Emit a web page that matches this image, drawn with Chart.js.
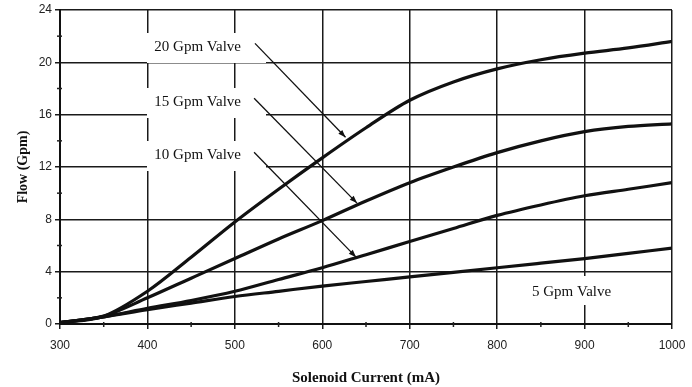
<!DOCTYPE html>
<html>
<head>
<meta charset="utf-8">
<script src="https://cdn.jsdelivr.net/npm/chart.js@4"></script>
<style>
html,body{margin:0;padding:0;background:#fff;}
#wrap{width:692px;height:387px;position:relative;}
</style>
</head>
<body>
<div id="wrap"><canvas id="c" width="692" height="387"></canvas></div>
<script>
// ---- data ----
const current = [300,350,400,450,500,550,600,650,700,750,800,850,900,950,1000];
const flow20 = [0.1,0.6,2.5,5.1,7.8,10.3,12.7,15.0,17.1,18.5,19.5,20.2,20.7,21.1,21.6];
const flow15 = [0.1,0.6,2.0,3.5,5.0,6.5,7.9,9.4,10.8,12.0,13.1,14.0,14.7,15.1,15.3];
const flow10 = [0.1,0.55,1.2,1.8,2.5,3.4,4.3,5.3,6.3,7.3,8.3,9.1,9.8,10.3,10.8];
const flow5  = [0.1,0.55,1.1,1.6,2.1,2.5,2.9,3.25,3.6,3.95,4.3,4.65,5.0,5.4,5.8];
const seriesNames = ['20 Gpm Valve','15 Gpm Valve','10 Gpm Valve','5 Gpm Valve'];
const xTicks = [300,400,500,600,700,800,900,1000];
const yTicks = [0,4,8,12,16,20,24];
const xMinor = [350,450,550,650,750,850,950];
const yMinor = [2,6,10,14,18,22];
// arrow annotations: [start x, start y, tip x, tip y] in data units
const arrow20 = [523,21.45,626.6,14.27];
const arrow15 = [522,17.25,639.7,9.24];
const arrow10 = [522,13.13,638.6,5.11];

function pts(ys){ return current.map((x,i)=>({x:x,y:ys[i]})); }

const annot = {
  id:'annot',
  beforeDatasetsDraw(chart){
    const ctx = chart.ctx, xs = chart.scales.x, ys = chart.scales.y;
    ctx.save();
    ctx.fillStyle = '#fff';
    [47,102,155].forEach(c=>{ ctx.fillRect(147, c-14, 119, 30); });
    ctx.fillRect(524, 276, 96, 29);
    ctx.strokeStyle = '#222'; ctx.lineWidth = 1.5;
    xMinor.forEach(v=>{ const px = xs.getPixelForValue(v); ctx.beginPath(); ctx.moveTo(px, ys.bottom-2); ctx.lineTo(px, ys.bottom+3); ctx.stroke(); });
    yMinor.forEach(v=>{ const py = ys.getPixelForValue(v); ctx.beginPath(); ctx.moveTo(xs.left-3, py); ctx.lineTo(xs.left+2, py); ctx.stroke(); });
    ctx.restore();
  },
  afterDatasetsDraw(chart){
    const ctx = chart.ctx, xs = chart.scales.x, ys = chart.scales.y;
    ctx.save();
    ctx.fillStyle = '#111';
    ctx.font = '15px "Liberation Serif", "Times New Roman", serif';
    ctx.textBaseline = 'middle';
    ctx.textAlign = 'right';
    ctx.fillText(seriesNames[0], 241, 47);
    ctx.fillText(seriesNames[1], 241, 102);
    ctx.fillText(seriesNames[2], 241, 155);
    ctx.textAlign = 'left';
    ctx.fillText(seriesNames[3], 532, 292);
    ctx.strokeStyle = '#111'; ctx.lineWidth = 1.3;
    [arrow20, arrow15, arrow10].forEach(a=>{
      const x1 = xs.getPixelForValue(a[0]), y1 = ys.getPixelForValue(a[1]);
      const x2 = xs.getPixelForValue(a[2]), y2 = ys.getPixelForValue(a[3]);
      ctx.beginPath(); ctx.moveTo(x1,y1); ctx.lineTo(x2,y2); ctx.stroke();
      const ang = Math.atan2(y2-y1, x2-x1), L = 8, W = 0.35;
      ctx.beginPath();
      ctx.moveTo(x2,y2);
      ctx.lineTo(x2 - L*Math.cos(ang-W), y2 - L*Math.sin(ang-W));
      ctx.lineTo(x2 - L*Math.cos(ang+W), y2 - L*Math.sin(ang+W));
      ctx.closePath(); ctx.fill();
    });
    ctx.restore();
  }
};

const lineStyle = {borderColor:'#111', borderWidth:3.2, pointRadius:0, fill:false, cubicInterpolationMode:'monotone'};

new Chart(document.getElementById('c'), {
  type:'line',
  data:{
    datasets:[
      Object.assign({label:seriesNames[0], data:pts(flow20)}, lineStyle),
      Object.assign({label:seriesNames[1], data:pts(flow15)}, lineStyle),
      Object.assign({label:seriesNames[2], data:pts(flow10)}, lineStyle),
      Object.assign({label:seriesNames[3], data:pts(flow5)}, lineStyle)
    ]
  },
  options:{
    responsive:false,
    animation:false,
    layout:{padding:{left:0,right:20,top:10,bottom:0}},
    plugins:{legend:{display:false}, tooltip:{enabled:false}},
    scales:{
      x:{
        type:'linear', min:300, max:1000,
        afterBuildTicks(s){ s.ticks = xTicks.map(v=>({value:v})); },
        afterFit(s){ s.height = 63; s.paddingLeft = 0; s.paddingRight = 0; },
        ticks:{color:'#222', font:{family:'"Liberation Sans", Arial, sans-serif', size:12}, padding:9, maxRotation:0, callback:v=>String(v)},
        grid:{color:'#1a1a1a', lineWidth:1.5, tickLength:5, tickColor:'#1a1a1a'},
        border:{color:'#111', width:2},
        title:{display:true, text:'Solenoid Current (mA)', color:'#111', font:{family:'"Liberation Serif", "Times New Roman", serif', size:15, weight:'bold'}, padding:{top:0,bottom:0}}
      },
      y:{
        type:'linear', min:0, max:24,
        afterBuildTicks(s){ s.ticks = yTicks.map(v=>({value:v})); },
        afterFit(s){ s.width = 60; s.paddingTop = 0; s.paddingBottom = 0; },
        ticks:{color:'#222', font:{family:'"Liberation Sans", Arial, sans-serif', size:12}, padding:3, callback:v=>String(v)},
        grid:{color:'#1a1a1a', lineWidth:1.5, tickLength:5, tickColor:'#1a1a1a'},
        border:{color:'#111', width:2},
        title:{display:true, text:'Flow (Gpm)', color:'#111', font:{family:'"Liberation Serif", "Times New Roman", serif', size:14, weight:'bold'}, padding:{top:15,bottom:0}}
      }
    }
  },
  plugins:[annot]
});
</script>
</body>
</html>
